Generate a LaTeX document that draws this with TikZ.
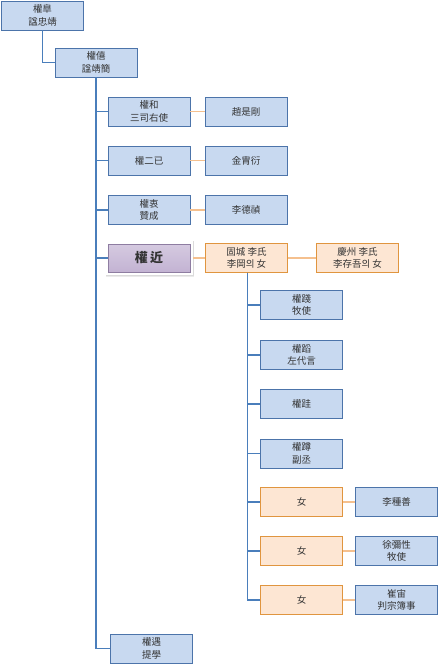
\documentclass[tikz,border=0pt]{standalone}
\usepackage{fontspec}
\setmainfont{Noto Sans CJK KR}
\usetikzlibrary{shadows}
\definecolor{bfill}{HTML}{C8D9F0}
\definecolor{bdraw}{HTML}{4C74AA}
\definecolor{ofill}{HTML}{FDE6D3}
\definecolor{odraw}{HTML}{E0953F}
\definecolor{pfill}{HTML}{C3B3D3}
\definecolor{pdraw}{HTML}{8E7DA1}
\definecolor{lineblue}{HTML}{4A7EBB}
\definecolor{lineorange}{HTML}{F5C08E}
\definecolor{txt}{HTML}{333333}
\tikzset{
  box/.style={rectangle, minimum width=82pt, minimum height=29pt, inner sep=0pt,
    align=center, font=\fontsize{9.5}{12.5}\selectfont, text=txt, line width=0.9pt},
  bbox/.style={box, fill=bfill, draw=bdraw},
  obox/.style={box, fill=ofill, draw=odraw},
  pbox/.style={box, top color=pfill!70!white, bottom color=pfill, draw=pdraw,
    font=\fontsize{13}{15}\selectfont\bfseries},
  tree/.style={draw=lineblue, line width=1.6pt},
  spouse/.style={draw=lineorange, line width=1.4pt},
}
\begin{document}
\begin{tikzpicture}[x=1pt,y=-1pt]
\useasboundingbox (0,0) rectangle (440,665);
% frame of the focus node
\fill[black!8] (105.5,240.5) rectangle (194,277);
\fill[black!14] (105.5,241) rectangle (193.5,276);
\fill[white] (105,240) rectangle (192.5,275);
\node[bbox] (g1) at (42.5,15.5) {權皐\\諡忠靖};
\node[bbox] (g2) at (96,62.5) {權僖\\諡靖簡};
\node[bbox] (c1) at (149,111.5) {權和\\三司右使};
\node[bbox] (s1) at (246,111.5) {趙是剛};
\node[bbox] (c2) at (149,160.5) {權二已};
\node[bbox] (s2) at (246,160.5) {金胄衍};
\node[bbox] (c3) at (149,210) {權衷\\贊成};
\node[bbox] (s3) at (246,210) {李德禎};
\node[pbox, minimum height=28pt] (me) at (149,258) {權\,近};
\node[obox] (w1) at (246.5,258) {固城 李氏\\李岡의 女};
\node[obox] (w2) at (357.5,258) {慶州 李氏\\李存吾의 女};
\node[bbox] (k1) at (301.5,305) {權踐\\牧使};
\node[bbox] (k2) at (301.5,355) {權蹈\\左代言};
\node[bbox] (k3) at (301.5,404) {權跬};
\node[bbox] (k4) at (301.5,453.5) {權蹲\\副丞};
\node[obox] (k5) at (301.5,502) {女};
\node[bbox] (h5) at (396.5,502) {李種善};
\node[obox] (k6) at (301.5,551) {女};
\node[bbox] (h6) at (396.5,551) {徐彌性\\牧使};
\node[obox] (k7) at (301.5,600) {女};
\node[bbox] (h7) at (396.5,600) {崔宙\\判宗簿事};
\node[bbox] (c5) at (151.5,648.5) {權遇\\提學};
% tree connectors
\draw[tree] (g1.south) |- (g2.west);
\coordinate (v1) at (g2.south);
\foreach \n in {c1,c2,c3,me,c5} \draw[tree] (v1) |- (\n.west);
\coordinate (v2) at ([xshift=1pt]w1.south);
\foreach \n in {k1,k2,k3,k4,k5,k6,k7} \draw[tree] (v2) |- (\n.west);
% spouse connectors
\draw[spouse] (c1) -- (s1);
\draw[spouse] (c2) -- (s2);
\draw[spouse] (c3) -- (s3);
\draw[spouse] ([xshift=3pt]me.east) -- (w1);
\draw[spouse] (w1) -- (w2);
\draw[spouse] (k5) -- (h5);
\draw[spouse] (k6) -- (h6);
\draw[spouse] (k7) -- (h7);
\end{tikzpicture}
\end{document}
